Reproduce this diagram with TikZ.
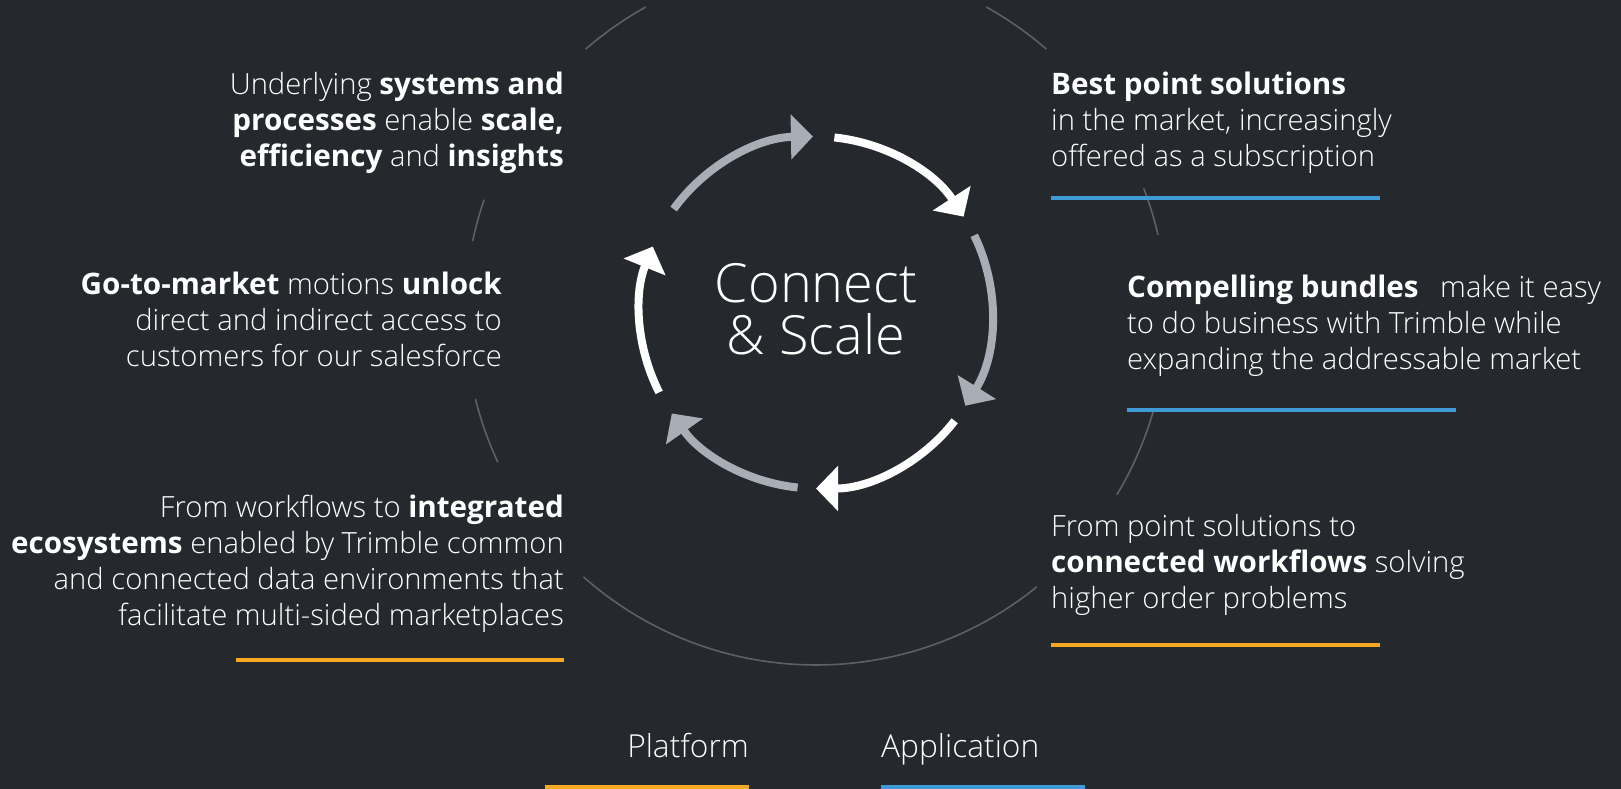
\documentclass[tikz,border=0pt]{standalone}
\usepackage{fontspec}
\setmainfont{Open Sans}[UprightFont=* Light, BoldFont=* Bold, BoldFeatures={Scale=1.015}]
\usetikzlibrary{arrows.meta}
\definecolor{bgdark}{HTML}{25292E}
\definecolor{arrowgray}{HTML}{A8ADB6}
\definecolor{ringgray}{HTML}{5C6167}
\definecolor{platorange}{HTML}{F6A823}
\definecolor{appblue}{HTML}{3E9BD7}
\begin{document}
\begin{tikzpicture}[x=1pt,y=1pt,
  ring/.style={ringgray,line width=1.6pt},
  cyclearc/.style={line width=8pt,-{Triangle[length=22pt,width=44pt]}},
  blurb/.style={text=white,inner sep=0pt,font=\fontsize{29.2}{36}\selectfont},
  bar/.style={line width=4pt}]
\fill[bgdark] (0,0) rectangle (1621,789);
\useasboundingbox (0,0) rectangle (1621,789);

\foreach \a/\b in {131/119, 61/49, 21/13, -16/-31, -51/-131.5, 194/205, 161/168}
  \draw[ring] (816,475) ++(\a:351) arc[start angle=\a, end angle=\b, radius=351];

\foreach \a/\b/\c in {144/91/arrowgray, 84/33/white, 26/-32/arrowgray, -38/-90/white, -96/-145/arrowgray, -153/-202/white}
  \draw[cyclearc,\c] (816,476.5) ++(\a:176) arc[start angle=\a, end angle=\b, radius=176];

\node[text=white,inner sep=0pt,align=center,anchor=base,font=\fontsize{54}{52}\selectfont] (hub) at (816,434) {Connect\\\& Scale};

\node[blurb,align=right,anchor=base east] (systems) at (564,622) {Underlying \textbf{systems and}\\\textbf{processes} enable \textbf{scale,}\\\textbf{efficiency} and \textbf{insights}};
\node[blurb,align=right,anchor=base east] (gotomarket) at (502,422) {\textbf{Go-to-market} motions \textbf{unlock}\\direct and indirect access to\\customers for our salesforce};
\node[blurb,align=right,anchor=base east] (ecosystems) at (564,163) {From workflows to \textbf{integrated}\\\textbf{ecosystems} enabled by Trimble common\\and connected data environments that\\facilitate multi-sided marketplaces};
\node[blurb,align=left,anchor=base west] (pointsol) at (1051,622) {\textbf{Best point solutions}\\in the market, increasingly\\offered as a subscription};
\node[blurb,align=left,anchor=base west] (bundles) at (1127,419) {\textbf{Compelling bundles}\hspace{14pt} make it easy\\to do business with Trimble while\\expanding the addressable market};
\node[blurb,align=left,anchor=base west] (workflows) at (1051,180) {From point solutions to\\\textbf{connected workflows} solving\\higher order problems};

\draw[bar,platorange] (236,129) -- (564,129);
\draw[bar,appblue] (1051,590.5) -- (1380,590.5);
\draw[bar,appblue] (1127,379) -- (1456,379);
\draw[bar,platorange] (1051,144) -- (1380,144);

\node[text=white,inner sep=0pt,anchor=base east,font=\fontsize{31.7}{32}\selectfont] (platform) at (749,31) {Platform};
\node[text=white,inner sep=0pt,anchor=base west,font=\fontsize{31.7}{32}\selectfont] (application) at (881,31) {Application};
\draw[bar,platorange] (545,2) -- (749,2);
\draw[bar,appblue] (881,2) -- (1085,2);
\end{tikzpicture}
\end{document}
